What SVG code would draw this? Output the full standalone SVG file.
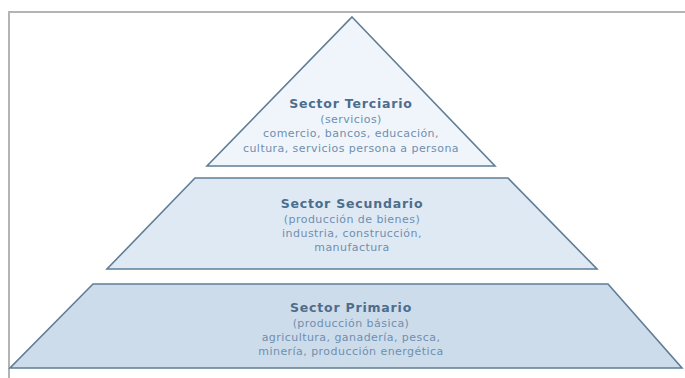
<svg xmlns="http://www.w3.org/2000/svg" width="685" height="378" viewBox="0 0 685 378">
<style>
.frame{fill:none;stroke:#b4b4b4;stroke-width:2}
.lvl{stroke:#5f7d96;stroke-width:1.6;stroke-linejoin:miter}
.t{font-family:"DejaVu Sans",Verdana,sans-serif;text-anchor:middle}
.h{font-size:12.5px;font-weight:bold;fill:#4d6d8c;letter-spacing:0.8px}
.s{font-size:11px;fill:#6f8fae;letter-spacing:0.45px}
</style>
<rect width="685" height="378" fill="#ffffff"/>
<polyline class="frame" points="9,378 9,12 685,12"/>
<g id="primario">
<polygon class="lvl" points="93,284 608,284 682,368 10,368" fill="#cddceb"/>
<text class="t h" x="351" y="312">Sector Primario</text>
<text class="t s" x="351" y="327">(producción básica)</text>
<text class="t s" x="351" y="341">agricultura, ganadería, pesca,</text>
<text class="t s" x="351" y="355">minería, producción energética</text>
</g>
<g id="secundario">
<polygon class="lvl" points="195,178 508,178 597,269 107,269" fill="#dfe9f4"/>
<text class="t h" x="352" y="208">Sector Secundario</text>
<text class="t s" x="352" y="223">(producción de bienes)</text>
<text class="t s" x="352" y="237">industria, construcción,</text>
<text class="t s" x="352" y="251">manufactura</text>
</g>
<g id="terciario">
<polygon class="lvl" points="352,17 495,166 207,166" fill="#eff5fb"/>
<text class="t h" x="351" y="108">Sector Terciario</text>
<text class="t s" x="351" y="123">(servicios)</text>
<text class="t s" x="351" y="137">comercio, bancos, educación,</text>
<text class="t s" x="351" y="152">cultura, servicios persona a persona</text>
</g>
<g id="connectors"></g>
</svg>
